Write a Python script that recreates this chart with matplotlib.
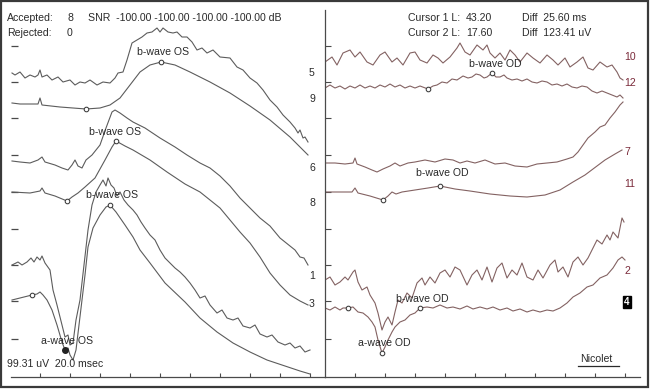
import matplotlib
matplotlib.use('Agg')
import matplotlib.pyplot as plt
from matplotlib.lines import Line2D
from matplotlib.patches import Rectangle

plt.rcParams['font.family'] = ['Liberation Sans', 'DejaVu Sans']

# ---------------- data (x in samples, 30 samples per 10 ms division; y in display uV) -------------
tick_x = [30, 60, 90, 120, 150, 180, 210, 240, 270, 300]
tick_y = [38, 76, 112, 148, 185, 222, 259, 295, 331]

# Left panel (OS) traces
t5_x = [2,5,10,15,20,25,28,30,32,37,42,48,53,60,65,70,75,80,87,93,100,105,108,113,117,122,127,132,137,142,
        147,150,153,158,163,167,172,177,182,187,192,197,203,210,220,227,233,240,247,253,260,267,273,280,285,288,290,293,295,298]
t5_y = [304,302,305,299,302,300,302,307,300,302,297,300,295,297,292,295,294,297,292,295,294,299,304,305,317,334,337,340,344,345,
        349,345,349,345,344,345,340,340,335,327,329,324,327,320,319,310,307,299,294,287,277,270,262,255,249,244,247,239,240,235]

t9_x = [2,10,28,30,32,50,76,90,100,110,120,130,140,151,165,180,200,220,240,260,280,298]
t9_y = [274,273,273,279,272,270,268,269,272,279,292,305,312,315,312,305,295,284,271,257,240,222]
t9_marks = [6, 13]

t6_x = [2,10,20,28,32,35,45,52,58,62,65,68,72,76,82,90,96,102,105,110,117,123,135,150,165,177,190,200,210,220,
        230,240,250,260,270,280,285,290,294,298]
t6_y = [216,215,214,217,220,215,212,209,207,212,217,211,209,217,222,232,249,265,267,264,259,255,249,239,230,222,214,209,201,191,
        179,169,159,151,139,131,127,120,119,112]

t8_x = [2,20,30,32,35,45,57,62,68,75,85,95,102,106,115,123,140,157,175,190,210,230,240,250,260,270,280,290,298]
t8_y = [185,184,186,189,184,181,176,180,184,190,199,217,230,236,231,227,217,205,193,185,169,145,134,120,104,92,82,76,72]
t8_marks = [6, 13]

t1_x = [2,8,12,17,21,24,27,30,32,35,40,43,47,52,55,58,60,63,66,70,74,78,82,86,90,93,96,98,101,104,
        107,110,114,118,123,127,131,135,140,145,150,155,160,165,170,175,180,185,190,195,200,207,212,217,223,228,233,240,245,250,
        257,262,268,275,280,285,290,295,300]
t1_y = [112,115,112,115,119,115,120,117,121,114,107,87,72,52,40,42,32,34,57,77,112,147,172,185,192,197,191,199,192,189,
        181,185,177,172,167,162,155,149,142,137,127,119,114,109,105,100,94,87,79,81,72,64,67,59,57,59,51,49,52,43,
        40,42,35,32,34,29,31,25,27]

t3_x = [2,10,18,22,27,30,33,37,42,47,52,55,58,60,63,66,69,72,75,78,83,90,96,100,106,115,123,130,140,155,
        175,190,207,223,240,257,275,290,300]
t3_y = [77,79,81,82,83,85,82,77,67,52,35,27,29,22,17,27,52,77,102,130,149,162,170,172,165,152,140,127,114,94,
        75,59,45,34,25,17,11,6,3]
t3_marks = [3, 23]
t3_awave = 11

# Right panel (OD) traces
t10_x = [0,7,12,18,25,30,35,42,48,55,60,67,72,78,85,90,95,102,108,113,118,125,132,135,140,145,152,158,162,165,
         170,175,180,185,190,195,202,208,215,222,228,233,240,245,252,258,263,268,275,282,287,292,295,298]
t10_y = [315,320,312,324,327,320,325,315,312,322,325,315,319,312,324,325,317,314,322,319,314,320,329,334,325,322,332,327,332,324,
         319,324,317,327,322,315,324,319,314,322,317,312,319,310,315,320,309,307,315,310,312,305,299,297]

t12_x = [0,5,10,15,20,25,30,35,40,45,50,55,60,65,70,75,80,85,90,95,103,108,112,117,122,127,132,138,143,147,
         151,155,159,162,167,171,175,179,182,187,192,197,202,207,212,217,222,227,232,237,242,247,252,257,262,267,272,277,282,287,
         292,295,298]
t12_y = [289,292,289,291,288,291,289,292,289,291,289,292,290,293,290,292,289,291,289,291,288,291,292,295,294,298,297,301,299,300,
         303,302,299,300,304,300,300,302,299,297,298,296,298,295,294,296,295,292,293,291,293,290,289,291,290,286,284,286,284,282,
         280,282,279]
t12_marks = [20, 34]

t7_x = [0,10,20,28,30,32,40,47,52,58,65,70,75,83,90,100,110,120,128,135,142,150,160,170,180,190,202,212,222,232,
        242,248,253,258,263,270,275,280,285,290,295,298]
t7_y = [214,214,213,214,219,213,210,207,205,208,211,214,211,214,215,217,215,218,217,214,216,214,217,213,214,211,210,213,214,215,
        218,220,225,232,239,245,250,252,259,265,272,275]

t11_x = [0,15,27,30,33,45,58,63,67,71,77,90,103,115,130,145,165,185,202,220,235,248,260,272,280,290,297]
t11_y = [185,185,185,189,184,181,177,181,185,183,185,187,189,191,188,186,183,181,180,182,187,195,202,211,217,223,227]
t11_marks = [6, 13]

t2_x = [0,5,10,15,20,23,28,30,33,37,42,45,50,53,57,60,63,67,70,73,77,82,87,92,97,100,105,110,115,120,
        125,130,135,142,147,152,157,162,167,172,177,182,187,192,197,202,208,213,218,225,230,233,238,243,248,253,258,263,267,272,
        277,282,285,288,293,297,299]
t2_y = [97,100,92,95,100,97,105,107,95,87,90,82,74,64,47,55,60,52,65,77,74,84,79,94,99,92,100,94,104,107,
        100,110,107,92,102,107,97,110,95,109,114,99,107,102,114,100,97,107,99,112,117,105,110,100,115,120,112,119,127,137,
        133,142,137,145,139,159,155]

t4_x = [0,5,10,15,18,23,28,33,38,43,47,50,53,57,60,63,67,70,75,80,85,90,95,102,108,115,122,128,135,142,
        148,155,162,168,175,182,188,195,202,208,215,222,228,235,242,248,255,262,268,275,282,288,293,297,300]
t4_y = [69,67,70,67,69,69,70,65,64,60,55,50,37,24,30,37,45,50,55,57,62,64,69,70,69,72,69,70,68,71,
        68,70,68,70,67,69,66,68,65,67,65,67,66,69,74,80,84,90,92,99,102,109,117,120,117]
t4_marks = [5, 13, 22]

left_labels = ['5', '9', '6', '8', '1', '3']
left_label_y = [304, 278, 209, 174, 101, 73]
right_labels = ['10', '12', '7', '11', '2', '4']
right_label_y = [320, 294, 225, 193, 106, 75]

# ---------------- figure ----------------
W, H = 650, 389
fig = plt.figure(figsize=(6.5, 3.89), dpi=100)
fig.patch.set_facecolor('white')

def fx(px):
    return px / W

def fy(py):
    return 1 - py / H

axL = fig.add_axes([fx(11), fy(377), fx(325) - fx(11), fy(10) - fy(377)])
axR = fig.add_axes([fx(325), fy(377), fx(640) - fx(325), fy(10) - fy(377)])

axis_col = '#4a4a4a'
L_col = '#5c5c5c'
R_col = '#836262'
lab_col = '#7a2a3a'
txt_col = '#2a2a2a'
fs = 7.6

axL.set_xlim(1, 315)
axR.set_xlim(0, 315)
for ax in (axL, axR):
    ax.set_ylim(0, 367)
    ax.set_facecolor('none')
    ax.set_xticks(tick_x)
    ax.set_yticks(tick_y)
    ax.set_xticklabels([])
    ax.set_yticklabels([])
    ax.tick_params(axis='x', direction='in', length=3.2, width=0.8, color=axis_col)
    ax.spines['top'].set_visible(False)
    ax.spines['right'].set_visible(False)
    ax.spines['bottom'].set_color(axis_col)
    ax.spines['bottom'].set_linewidth(0.9)
axL.spines['left'].set_visible(False)
axL.tick_params(axis='y', direction='in', length=5.0, width=0.9, color=axis_col)
axR.spines['left'].set_color(axis_col)
axR.spines['left'].set_linewidth(0.9)
axR.tick_params(axis='y', direction='in', length=4.4, width=0.8, color=axis_col)

lw = 0.8
mk_style = dict(ls='none', marker='o', ms=3.3, mfc='white', mec='#3a3a3a', mew=0.75, zorder=5)
# left traces
for xs, ys in [(t5_x, t5_y), (t9_x, t9_y), (t6_x, t6_y), (t8_x, t8_y), (t1_x, t1_y), (t3_x, t3_y)]:
    axL.plot(xs, ys, color=L_col, lw=lw, solid_joinstyle='round')
for xs, ys, mk in [(t9_x, t9_y, t9_marks), (t8_x, t8_y, t8_marks), (t3_x, t3_y, t3_marks)]:
    axL.plot([xs[i] for i in mk], [ys[i] for i in mk], **mk_style)
axL.plot([t3_x[t3_awave]], [t3_y[t3_awave]], ls='none', marker='o', ms=4.0,
         mfc='#222222', mec='#222222', zorder=5)

# right traces
for xs, ys in [(t10_x, t10_y), (t12_x, t12_y), (t7_x, t7_y), (t11_x, t11_y), (t2_x, t2_y), (t4_x, t4_y)]:
    axR.plot(xs, ys, color=R_col, lw=lw, solid_joinstyle='round')
for xs, ys, mk in [(t12_x, t12_y, t12_marks), (t11_x, t11_y, t11_marks), (t4_x, t4_y, t4_marks)]:
    axR.plot([xs[i] for i in mk], [ys[i] for i in mk], **mk_style)

# annotations
axL.text(153, 325, 'b-wave OS', fontsize=fs, ha='center', va='center', color=txt_col)
axL.text(105, 245, 'b-wave OS', fontsize=fs, ha='center', va='center', color=txt_col)
axL.text(102, 182, 'b-wave OS', fontsize=fs, ha='center', va='center', color=txt_col)
axL.text(57, 36, 'a-wave OS', fontsize=fs, ha='center', va='center', color=txt_col)
axR.text(170, 313, 'b-wave OD', fontsize=fs, ha='center', va='center', color=txt_col)
axR.text(117, 204, 'b-wave OD', fontsize=fs, ha='center', va='center', color=txt_col)
axR.text(97, 78, 'b-wave OD', fontsize=fs, ha='center', va='center', color=txt_col)
axR.text(59, 34, 'a-wave OD', fontsize=fs, ha='center', va='center', color=txt_col)

for lab, yy in zip(left_labels, left_label_y):
    axL.text(302, yy, lab, fontsize=fs, ha='center', va='center', color=txt_col)
for lab, yy in zip(right_labels, right_label_y):
    if lab == '4':
        axR.text(302, yy, lab, fontsize=fs - 0.5, ha='center', va='center', color='white',
                 fontweight='bold',
                 bbox=dict(boxstyle='square,pad=0.15', fc='black', ec='black'))
    else:
        axR.text(305 if len(lab) > 1 else 302, yy, lab, fontsize=fs, ha='center', va='center', color=lab_col)

axR.text(271, 18, 'Nicolet', fontsize=fs, ha='center', va='center', color=txt_col)
axR.add_line(Line2D([253, 294], [11, 11], color=txt_col, lw=0.9))

# header text
txt = dict(fontsize=fs, va='center', color=txt_col)
fig.text(fx(7), fy(18), 'Accepted:', **txt)
fig.text(fx(67), fy(18), '8', **txt)
fig.text(fx(88), fy(18), 'SNR  -100.00 -100.00 -100.00 -100.00 dB', **txt)
fig.text(fx(7), fy(33), 'Rejected:', **txt)
fig.text(fx(67), fy(33), '0', **txt)
fig.text(fx(408), fy(18), 'Cursor 1 L:', **txt)
fig.text(fx(466), fy(18), '43.20', **txt)
fig.text(fx(522), fy(18), 'Diff  25.60 ms', **txt)
fig.text(fx(408), fy(33), 'Cursor 2 L:', **txt)
fig.text(fx(466), fy(33), '17.60', **txt)
fig.text(fx(522), fy(33), 'Diff  123.41 uV', **txt)
fig.text(fx(7), fy(364), '99.31 uV  20.0 msec', **txt)

# outer frame
fig.patches.append(Rectangle((fx(1), fy(387)), fx(648) - fx(1), fy(1) - fy(387),
                             transform=fig.transFigure, fill=False, ec='#3a3a3a', lw=1.6))

fig.savefig('out.png', dpi=100, facecolor='white')
